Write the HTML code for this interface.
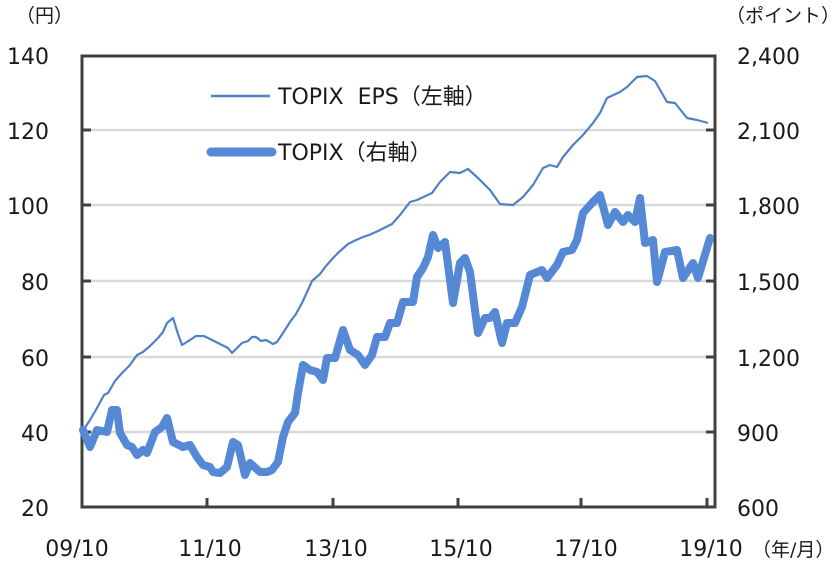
<!DOCTYPE html>
<html><head><meta charset="utf-8"><style>
html,body{margin:0;padding:0;background:#fff;}
svg{display:block;}
text{font-family:"DejaVu Sans","Noto Sans CJK JP",sans-serif;font-size:22px;fill:#1a1a1a;}
text.u{font-size:19px;}
</style></head><body>
<svg width="840" height="564" viewBox="0 0 840 564" xmlns="http://www.w3.org/2000/svg">
<g stroke="#d9d9d9" stroke-width="2.5">
<line x1="82" y1="130" x2="715" y2="130"/>
<line x1="82" y1="205" x2="715" y2="205"/>
<line x1="82" y1="281" x2="715" y2="281"/>
<line x1="82" y1="357" x2="715" y2="357"/>
<line x1="82" y1="432" x2="715" y2="432"/>
</g>
<g stroke="#404040" stroke-width="3" fill="none">
<rect x="82" y="56" width="633" height="451"/>
<line x1="82" y1="130" x2="91" y2="130"/><line x1="82" y1="205" x2="91" y2="205"/><line x1="82" y1="281" x2="91" y2="281"/><line x1="82" y1="357" x2="91" y2="357"/><line x1="82" y1="432" x2="91" y2="432"/>
<line x1="715" y1="130" x2="706" y2="130"/><line x1="715" y1="205" x2="706" y2="205"/><line x1="715" y1="281" x2="706" y2="281"/><line x1="715" y1="357" x2="706" y2="357"/><line x1="715" y1="432" x2="706" y2="432"/>
<line x1="207" y1="507" x2="207" y2="498"/><line x1="333" y1="507" x2="333" y2="498"/><line x1="458" y1="507" x2="458" y2="498"/><line x1="581" y1="507" x2="581" y2="498"/><line x1="707" y1="507" x2="707" y2="498"/>
</g>
<polyline fill="none" stroke="#4f81c4" stroke-width="2.2" stroke-linejoin="round" points="82,432 90,420 97,408 104,395 108,393 115,381 122,373 130,365 137,355 143,352 150,346 158,338 163,332 167,323 173,318 178,334 182,345 190,340 196,336 204,336 210,339 220,344 228,348 232,353 238,347 242,343 248,341 252,337 256,337 261,341 266,340 273,344 277,342 283,333 290,322 296,314 302,303 308,290 312,281 320,274 326,266 333,258 339,252 348,244 356,240 363,237 369,235 378,231 386,227 392,224 400,215 410,202 417,200 432,193 440,182 450,172 460,173 468,169 478,178 490,190 500,204 513,205 523,197 533,185 543,168 550,165 557,167 563,157 573,145 583,135 593,123 600,113 607,98 620,92 627,87 637,77 647,76 655,81 667,102 675,103 687,118 697,120 708,123"/>
<polyline fill="none" stroke="#5589d6" stroke-width="8" stroke-linejoin="round" stroke-linecap="round" points="83,430 90,447 97,430 107,432 112,410 117,410 120,433 127,445 132,447 137,455 143,450 147,453 155,432 162,427 167,418 173,442 183,447 190,445 197,457 203,465 210,467 213,472 220,473 227,467 233,442 238,445 245,475 250,463 260,472 267,472 272,470 278,462 283,437 288,422 295,413 298,393 303,365 310,370 317,372 323,380 327,358 335,358 343,330 350,350 358,355 365,365 372,355 377,337 385,337 390,323 397,323 403,302 413,302 417,277 423,268 428,257 433,235 438,248 445,242 453,303 460,263 465,258 470,272 478,333 485,318 490,318 495,312 502,343 507,323 515,323 522,307 530,275 542,270 547,278 557,265 563,252 572,250 577,240 583,213 592,203 600,195 608,225 615,212 623,222 628,215 635,222 640,198 645,243 653,240 657,282 665,252 677,250 683,278 693,263 698,278 710,238"/>
<line x1="211" y1="96" x2="270" y2="96" stroke="#4f81c4" stroke-width="2.5"/>
<text x="278" y="104">TOPIX&#160; EPS（左軸）</text>
<line x1="211" y1="152" x2="272" y2="152" stroke="#5589d6" stroke-width="9" stroke-linecap="round"/>
<text x="278" y="160">TOPIX（右軸）</text>
<g text-anchor="end">
<text x="49" y="64">140</text><text x="49" y="139">120</text><text x="49" y="214">100</text><text x="49" y="290">80</text><text x="49" y="366">60</text><text x="49" y="441">40</text><text x="49" y="516">20</text>
</g>
<g>
<text x="737" y="64">2,400</text><text x="737" y="139">2,100</text><text x="737" y="214">1,800</text><text x="737" y="290">1,500</text><text x="737" y="366">1,200</text><text x="737" y="441">900</text><text x="737" y="516">600</text>
</g>
<g text-anchor="middle">
<text x="77" y="556">09/10</text><text x="210" y="556">11/10</text><text x="336" y="556">13/10</text><text x="461" y="556">15/10</text><text x="586" y="556">17/10</text><text x="711" y="556">19/10</text>
</g>
<text class="u" x="16" y="22">（円）</text>
<text class="u" x="726" y="22">（ポイント）</text>
<text class="u" x="752" y="556">（年/月）</text>
</svg>
</body></html>
